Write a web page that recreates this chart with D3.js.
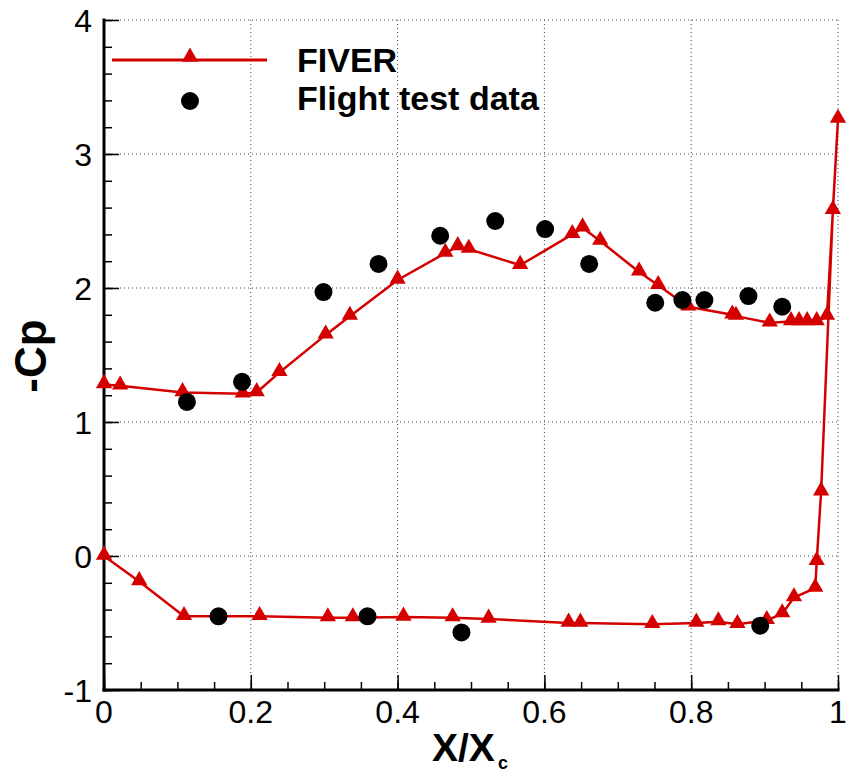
<!DOCTYPE html>
<html>
<head>
<meta charset="utf-8">
<script src="https://cdn.jsdelivr.net/npm/d3@7"></script>
<style>
  body { margin: 0; background: #fff; }
  svg { display: block; font-family: "Liberation Sans", Arial, sans-serif; }
</style>
</head>
<body>
<svg width="848" height="775"></svg>
<script>
// FIVER: upper surface LE -> TE, then trailing edge, then lower surface TE -> LE
const fiverX = [0, 0.022, 0.107, 0.189, 0.208, 0.239, 0.302, 0.335, 0.400, 0.465, 0.482, 0.497,
    0.567, 0.638, 0.652, 0.676, 0.729, 0.755, 0.796, 0.856, 0.861, 0.907, 0.936, 0.947, 0.958,
    0.971, 0.985, 1.0, 0.993, 0.977, 0.971, 0.969, 0.940, 0.924, 0.903, 0.863, 0.837, 0.807,
    0.747, 0.649, 0.633, 0.524, 0.475, 0.408, 0.339, 0.305, 0.212, 0.109, 0.048, 0];
const fiverY = [1.28, 1.27, 1.22, 1.21, 1.22, 1.37, 1.65, 1.79, 2.06, 2.26, 2.31, 2.29,
    2.17, 2.40, 2.45, 2.35, 2.12, 2.02, 1.86, 1.80, 1.79, 1.74, 1.75, 1.75, 1.75,
    1.75, 1.79, 3.26, 2.58, 0.48, -0.04, -0.24, -0.31, -0.43, -0.48, -0.51, -0.49, -0.50,
    -0.51, -0.50, -0.50, -0.47, -0.46, -0.455, -0.46, -0.46, -0.45, -0.45, -0.19, 0];

const flightX = [0.113, 0.188, 0.299, 0.374, 0.458, 0.533, 0.601, 0.661, 0.751, 0.788, 0.818,
    0.878, 0.924, 0.156, 0.359, 0.487, 0.894];
const flightY = [1.15, 1.30, 1.97, 2.18, 2.39, 2.50, 2.44, 2.18, 1.89, 1.91, 1.91,
    1.94, 1.86, -0.45, -0.45, -0.57, -0.52];

const xTicks = [0, 0.2, 0.4, 0.6, 0.8, 1];
const yTicks = [-1, 0, 1, 2, 3, 4];

const red = '#d40000';
const margin = { top: 20, right: 10, bottom: 85, left: 104 };
const width = 838 - margin.left;
const height = 690 - margin.top;

const svg = d3.select('svg');
const g = svg.append('g')
    .attr('transform', `translate(${margin.left}, ${margin.top})`);

const x = d3.scaleLinear().domain([0, 1]).range([0, width]);
const y = d3.scaleLinear().domain([-1, 4]).range([height, 0]);

// dotted grid
g.selectAll('.gx')
    .data(xTicks.slice(1))
    .enter().append('line')
    .attr('x1', d => x(d)).attr('x2', d => x(d))
    .attr('y1', 0).attr('y2', height)
    .attr('stroke', '#444').attr('stroke-width', 1)
    .attr('stroke-dasharray', '1,3');

g.selectAll('.gy')
    .data(yTicks.slice(1))
    .enter().append('line')
    .attr('x1', 0).attr('x2', width)
    .attr('y1', d => y(d)).attr('y2', d => y(d))
    .attr('stroke', '#444').attr('stroke-width', 1)
    .attr('stroke-dasharray', '1,3');

// axes with inward ticks
const xMinor = d3.range(0, 1.0001, 0.05);
const yMinor = d3.range(-1, 4.0001, 0.2);

const xAxis = g.append('g').attr('transform', `translate(0, ${height})`);
xAxis.call(d3.axisTop(x).tickValues(xMinor).tickSize(8).tickFormat(''));
xAxis.append('g').call(d3.axisTop(x).tickValues(xTicks).tickSize(15).tickFormat(''));
xAxis.selectAll('.tick line').attr('stroke', '#000').attr('stroke-width', 1.5);
xAxis.selectAll('.domain').remove();
xAxis.append('line').attr('x1', -1.5).attr('x2', width + 1.5)
    .attr('stroke', '#000').attr('stroke-width', 3);
xAxis.selectAll('.xl')
    .data(xTicks)
    .enter().append('text')
    .attr('x', d => x(d))
    .attr('y', 33)
    .attr('fill', '#000')
    .attr('text-anchor', 'middle')
    .attr('font-size', '32px')
    .attr('font-family', '"Liberation Sans", Arial, sans-serif')
    .text(d => d3.format('')(d));

const yAxis = g.append('g');
yAxis.call(d3.axisRight(y).tickValues(yMinor).tickSize(8).tickFormat(''));
yAxis.append('g').call(d3.axisRight(y).tickValues(yTicks).tickSize(15).tickFormat(''));
yAxis.selectAll('.tick line').attr('stroke', '#000').attr('stroke-width', 1.5);
yAxis.selectAll('.domain').remove();
yAxis.append('line').attr('y1', -1.5).attr('y2', height + 1.5)
    .attr('stroke', '#000').attr('stroke-width', 3);
yAxis.selectAll('.yl')
    .data(yTicks)
    .enter().append('text')
    .attr('x', -12)
    .attr('y', d => y(d) + 12)
    .attr('fill', '#000')
    .attr('text-anchor', 'end')
    .attr('font-size', '32px')
    .attr('font-family', '"Liberation Sans", Arial, sans-serif')
    .text(d => d);

// axis titles
const xt = svg.append('text')
    .attr('x', 432)
    .attr('y', 761)
    .attr('font-size', '39px')
    .attr('font-weight', 'bold');
xt.append('tspan').text('X/X');
xt.append('tspan').attr('font-size', '18px').attr('dx', 3).attr('dy', 8).text('c');

svg.append('text')
    .attr('transform', 'translate(46, 356) rotate(-90)')
    .attr('text-anchor', 'middle')
    .attr('font-size', '44px')
    .attr('font-weight', 'bold')
    .text('-Cp');

// FIVER line
const fiver = fiverX.map((d, i) => ({ x: d, y: fiverY[i] }));
const flight = flightX.map((d, i) => ({ x: d, y: flightY[i] }));

const line = d3.line()
    .x(d => x(d.x))
    .y(d => y(d.y));

g.append('path')
    .datum(fiver)
    .attr('fill', 'none')
    .attr('stroke', red)
    .attr('stroke-width', 2.5)
    .attr('d', line);

const tri = d3.symbol().type(d3.symbolTriangle).size(115);

g.selectAll('.tri')
    .data(fiver)
    .enter().append('path')
    .attr('class', 'tri')
    .attr('transform', d => `translate(${x(d.x)}, ${y(d.y) - 1})`)
    .attr('d', tri)
    .attr('fill', red);

g.selectAll('.dot')
    .data(flight)
    .enter().append('circle')
    .attr('class', 'dot')
    .attr('cx', d => x(d.x))
    .attr('cy', d => y(d.y))
    .attr('r', 9)
    .attr('fill', '#000');

// legend
const legend = svg.append('g');
legend.append('line')
    .attr('x1', 112).attr('x2', 267)
    .attr('y1', 60).attr('y2', 60)
    .attr('stroke', red).attr('stroke-width', 3);
legend.append('path')
    .attr('transform', 'translate(190, 57)')
    .attr('d', tri)
    .attr('fill', red);
legend.append('circle')
    .attr('cx', 190).attr('cy', 101).attr('r', 9)
    .attr('fill', '#000');
legend.append('text')
    .attr('x', 297).attr('y', 72)
    .attr('font-size', '34px').attr('font-weight', 'bold')
    .text('FIVER');
legend.append('text')
    .attr('x', 297).attr('y', 110)
    .attr('font-size', '34px').attr('font-weight', 'bold')
    .text('Flight test data');
</script>
</body>
</html>
